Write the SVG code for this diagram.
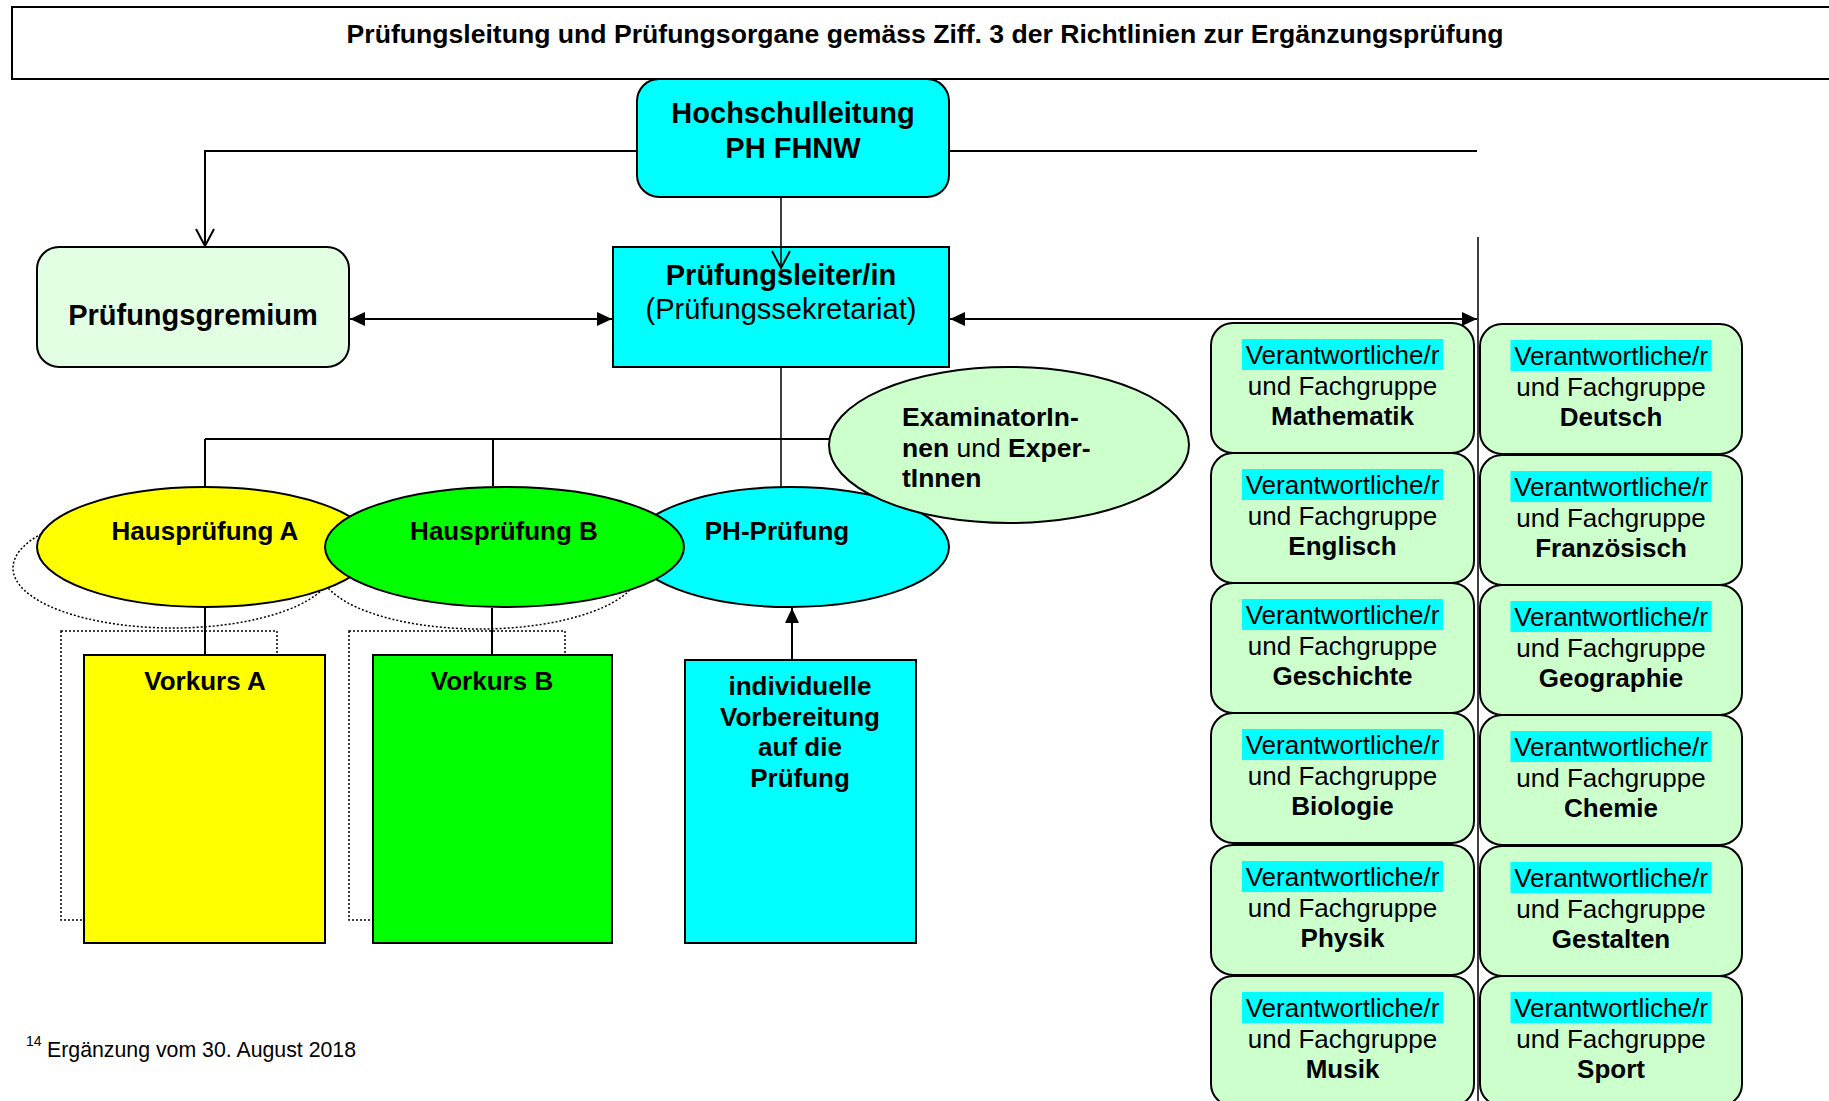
<svg xmlns="http://www.w3.org/2000/svg" width="1829" height="1101" viewBox="0 0 1829 1101">
<style>
text{font-family:"Liberation Sans",Arial,sans-serif;fill:#000}
.b{font-weight:bold}
.t26{font-size:26px}
.t29{font-size:29px}
.mid{text-anchor:middle}
.box{stroke:#000;stroke-width:2}
.ln{fill:none;stroke:#000;stroke-width:2}
.thin{fill:none;stroke:#000;stroke-width:1.5}
.dot{fill:none;stroke:#000;stroke-width:1.5;stroke-dasharray:2 2}
.card{fill:#CCFFCC;stroke:#000;stroke-width:2}
.hl{fill:#00FFFF}
</style>
<defs>
<marker id="fa" viewBox="0 0 15 14" refX="15" refY="7" markerWidth="15" markerHeight="14" markerUnits="userSpaceOnUse" orient="auto-start-reverse"><path d="M0,0 L15,7 L0,14 z" fill="#000"/></marker>
<marker id="oa" viewBox="0 0 20 20" refX="18" refY="10" markerWidth="20" markerHeight="20" markerUnits="userSpaceOnUse" orient="auto"><path d="M1,1 L18,10 L1,19" fill="none" stroke="#000" stroke-width="2"/></marker>
</defs>
<rect width="1829" height="1101" fill="#fff"/>

<g id="title">
<rect x="12" y="7" width="1840" height="72" fill="#fff" class="box"/>
<text x="925" y="43" class="b mid" style="font-size:26.6px">Prüfungsleitung und Prüfungsorgane gemäss Ziff. 3 der Richtlinien zur Ergänzungsprüfung</text>
</g>

<g id="shadows">
<ellipse cx="173" cy="568" rx="160" ry="60" class="dot"/>
<ellipse cx="480" cy="569" rx="160" ry="60" class="dot"/>
<rect x="61" y="631" width="216" height="289" class="dot"/>
<rect x="349" y="631" width="216" height="289" class="dot"/>
</g>

<g id="hochschulleitung">
<rect x="637" y="79" width="312" height="118" rx="22" fill="#00FFFF" class="box"/>
<text x="793" y="123" class="b t29 mid">Hochschulleitung</text>
<text x="793" y="158" class="b t29 mid">PH FHNW</text>
</g>

<g id="pruefungsgremium">
<rect x="37" y="247" width="312" height="120" rx="22" fill="#E3FFE3" class="box"/>
<text x="193" y="325" class="b t29 mid">Prüfungsgremium</text>
</g>

<g id="pruefungsleiter">
<rect x="613" y="247" width="336" height="120" fill="#00FFFF" class="box"/>
<text x="781" y="285" class="b t29 mid">Prüfungsleiter/in</text>
<text x="781" y="319" class="t29 mid">(Prüfungssekretariat)</text>
</g>

<g id="ph-pruefung">
<ellipse cx="790" cy="547" rx="159" ry="60" fill="#00FFFF" class="box"/>
<text x="777" y="540" class="b t26 mid">PH-Prüfung</text>
</g>

<g id="hauspruefung-a">
<ellipse cx="205" cy="547" rx="168" ry="60" fill="#FFFF00" class="box"/>
<text x="205" y="540" class="b t26 mid">Hausprüfung A</text>
</g>

<g id="hauspruefung-b">
<ellipse cx="504.5" cy="547" rx="179.5" ry="60" fill="#00FF00" class="box"/>
<text x="504" y="540" class="b t26 mid">Hausprüfung B</text>
</g>

<g id="examinatoren">
<ellipse cx="1009" cy="445" rx="180" ry="78" fill="#CCFFCC" class="box"/>
<text x="902" y="426" class="b" style="font-size:26.5px">ExaminatorIn-</text>
<text x="902" y="457" style="font-size:26.5px"><tspan class="b">nen</tspan> und <tspan class="b">Exper-</tspan></text>
<text x="902" y="487" class="b" style="font-size:26.5px">tInnen</text>
</g>

<g id="vorkurs-a">
<rect x="84" y="655" width="241" height="288" fill="#FFFF00" class="box"/>
<text x="205" y="690" class="b t26 mid">Vorkurs A</text>
</g>

<g id="vorkurs-b">
<rect x="373" y="655" width="239" height="288" fill="#00FF00" class="box"/>
<text x="492" y="690" class="b t26 mid">Vorkurs B</text>
</g>

<g id="vorbereitung">
<rect x="685" y="660" width="231" height="283" fill="#00FFFF" class="box"/>
<text x="800" y="695" class="b t26 mid">individuelle</text>
<text x="800" y="726" class="b t26 mid">Vorbereitung</text>
<text x="800" y="756" class="b t26 mid">auf die</text>
<text x="800" y="787" class="b t26 mid">Prüfung</text>
</g>

<g id="fg-mathematik">
<rect x="1211" y="323" width="263" height="130" rx="22" class="card"/>
<rect x="1242" y="339" width="201" height="31" class="hl"/>
<text x="1342.5" y="364" class="t26 mid">Verantwortliche/r</text>
<text x="1342.5" y="395" class="t26 mid">und Fachgruppe</text>
<text x="1342.5" y="425" class="b t26 mid">Mathematik</text>
</g>
<g id="fg-englisch">
<rect x="1211" y="453" width="263" height="130" rx="22" class="card"/>
<rect x="1242" y="469" width="201" height="31" class="hl"/>
<text x="1342.5" y="494" class="t26 mid">Verantwortliche/r</text>
<text x="1342.5" y="525" class="t26 mid">und Fachgruppe</text>
<text x="1342.5" y="555" class="b t26 mid">Englisch</text>
</g>
<g id="fg-geschichte">
<rect x="1211" y="583" width="263" height="130" rx="22" class="card"/>
<rect x="1242" y="599" width="201" height="31" class="hl"/>
<text x="1342.5" y="624" class="t26 mid">Verantwortliche/r</text>
<text x="1342.5" y="655" class="t26 mid">und Fachgruppe</text>
<text x="1342.5" y="685" class="b t26 mid">Geschichte</text>
</g>
<g id="fg-biologie">
<rect x="1211" y="713" width="263" height="130" rx="22" class="card"/>
<rect x="1242" y="729" width="201" height="31" class="hl"/>
<text x="1342.5" y="754" class="t26 mid">Verantwortliche/r</text>
<text x="1342.5" y="785" class="t26 mid">und Fachgruppe</text>
<text x="1342.5" y="815" class="b t26 mid">Biologie</text>
</g>
<g id="fg-physik">
<rect x="1211" y="845" width="263" height="130" rx="22" class="card"/>
<rect x="1242" y="861" width="201" height="31" class="hl"/>
<text x="1342.5" y="886" class="t26 mid">Verantwortliche/r</text>
<text x="1342.5" y="917" class="t26 mid">und Fachgruppe</text>
<text x="1342.5" y="947" class="b t26 mid">Physik</text>
</g>
<g id="fg-musik">
<rect x="1211" y="976" width="263" height="130" rx="22" class="card"/>
<rect x="1242" y="992" width="201" height="31" class="hl"/>
<text x="1342.5" y="1017" class="t26 mid">Verantwortliche/r</text>
<text x="1342.5" y="1048" class="t26 mid">und Fachgruppe</text>
<text x="1342.5" y="1078" class="b t26 mid">Musik</text>
</g>

<g id="fg-deutsch">
<rect x="1480" y="324" width="262" height="130" rx="22" class="card"/>
<rect x="1510.5" y="340" width="201" height="31" class="hl"/>
<text x="1611" y="365" class="t26 mid">Verantwortliche/r</text>
<text x="1611" y="396" class="t26 mid">und Fachgruppe</text>
<text x="1611" y="426" class="b t26 mid">Deutsch</text>
</g>
<g id="fg-franzoesisch">
<rect x="1480" y="455" width="262" height="130" rx="22" class="card"/>
<rect x="1510.5" y="471" width="201" height="31" class="hl"/>
<text x="1611" y="496" class="t26 mid">Verantwortliche/r</text>
<text x="1611" y="527" class="t26 mid">und Fachgruppe</text>
<text x="1611" y="557" class="b t26 mid">Französisch</text>
</g>
<g id="fg-geographie">
<rect x="1480" y="585" width="262" height="130" rx="22" class="card"/>
<rect x="1510.5" y="601" width="201" height="31" class="hl"/>
<text x="1611" y="626" class="t26 mid">Verantwortliche/r</text>
<text x="1611" y="657" class="t26 mid">und Fachgruppe</text>
<text x="1611" y="687" class="b t26 mid">Geographie</text>
</g>
<g id="fg-chemie">
<rect x="1480" y="715" width="262" height="130" rx="22" class="card"/>
<rect x="1510.5" y="731" width="201" height="31" class="hl"/>
<text x="1611" y="756" class="t26 mid">Verantwortliche/r</text>
<text x="1611" y="787" class="t26 mid">und Fachgruppe</text>
<text x="1611" y="817" class="b t26 mid">Chemie</text>
</g>
<g id="fg-gestalten">
<rect x="1480" y="846" width="262" height="130" rx="22" class="card"/>
<rect x="1510.5" y="862" width="201" height="31" class="hl"/>
<text x="1611" y="887" class="t26 mid">Verantwortliche/r</text>
<text x="1611" y="918" class="t26 mid">und Fachgruppe</text>
<text x="1611" y="948" class="b t26 mid">Gestalten</text>
</g>
<g id="fg-sport">
<rect x="1480" y="976" width="262" height="130" rx="22" class="card"/>
<rect x="1510.5" y="992" width="201" height="31" class="hl"/>
<text x="1611" y="1017" class="t26 mid">Verantwortliche/r</text>
<text x="1611" y="1048" class="t26 mid">und Fachgruppe</text>
<text x="1611" y="1078" class="b t26 mid">Sport</text>
</g>

<g id="connectors">
<path d="M637,151 H205 V246" class="ln" marker-end="url(#oa)"/>
<path d="M781,198 V268" class="thin" marker-end="url(#oa)"/>
<path d="M950,151 H1477" class="ln"/>
<path d="M1478,237 V1101" class="thin"/>
<path d="M350,319 H612" class="ln" marker-start="url(#fa)" marker-end="url(#fa)"/>
<path d="M950,319 H1477" class="ln" marker-start="url(#fa)" marker-end="url(#fa)"/>
<path d="M781,368 V487" class="thin"/>
<path d="M205,439 H829" class="ln"/>
<path d="M205,439 V486" class="ln"/>
<path d="M493,439 V486" class="ln"/>
<path d="M205,608 V654" class="ln"/>
<path d="M492,608 V654" class="ln"/>
<path d="M792,659 V608" class="ln" marker-end="url(#fa)"/>
</g>

<g id="footnote">
<text x="26" y="1046" style="font-size:14px">14</text>
<text x="47" y="1057" style="font-size:21.3px">Ergänzung vom 30. August 2018</text>
</g>
</svg>
